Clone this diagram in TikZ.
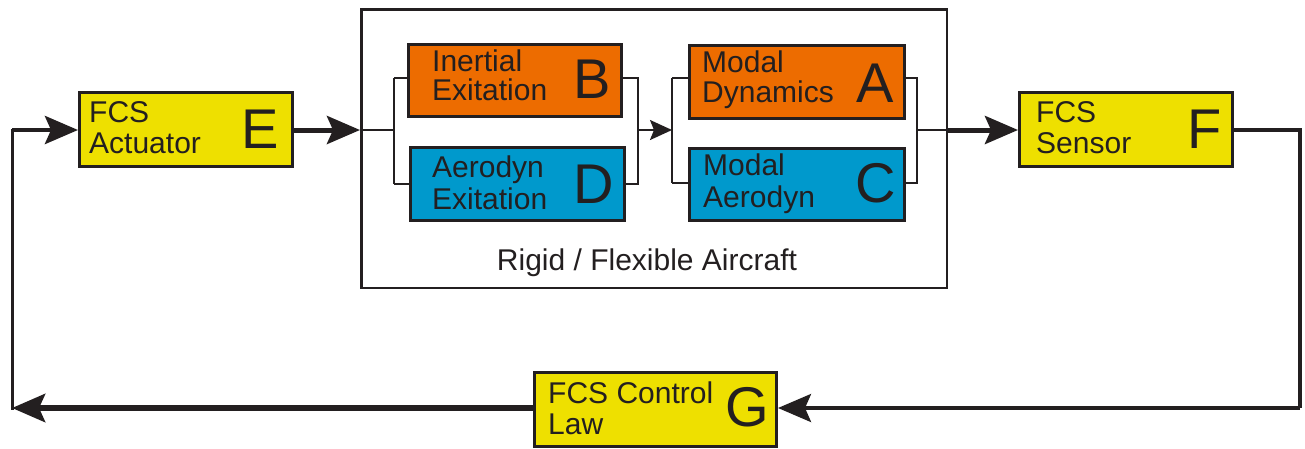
\documentclass[tikz,border=0pt]{standalone}
\usepackage{fontspec}
\setmainfont{Liberation Sans}
\usetikzlibrary{arrows.meta}
\definecolor{ink}{RGB}{35,31,32}
\definecolor{fcsyellow}{RGB}{238,224,0}
\definecolor{dynorange}{RGB}{237,108,0}
\definecolor{aeroblue}{RGB}{0,153,204}
\tikzset{
  blk/.style={draw=ink, line width=3pt, rectangle, inner sep=0pt},
  ybox/.style={blk, fill=fcsyellow},
  obox/.style={blk, fill=dynorange},
  bbox/.style={blk, fill=aeroblue},
  txt/.style={inner sep=0pt, anchor=base west, text=ink, font=\fontsize{30}{31}\selectfont},
  big/.style={inner sep=0pt, anchor=base east, text=ink, font=\fontsize{56}{60}\selectfont},
  thinln/.style={draw=ink, line width=2.7pt},
  thickln/.style={draw=ink, line width=5pt},
  bigtip/.style={-{Stealth[length=33pt,width=28pt,inset=6pt]}},
  smalltip/.style={-{Stealth[length=22pt,width=20pt,inset=4pt]}},
}
\begin{document}
\begin{tikzpicture}[x=1pt,y=-1pt]
\useasboundingbox (0,0) rectangle (1305,448);
% outer frame
\node[draw=ink, line width=2.5pt, inner sep=0pt, minimum width=585.5pt, minimum height=278.5pt] (frame) at (654,148.5) {};
\node[inner sep=0pt, anchor=base, text=ink, font=\fontsize{30}{31}\selectfont] (framelbl) at (647,270) {Rigid / Flexible Aircraft};
% blocks
\node[ybox, minimum width=213pt, minimum height=74pt] (E) at (186,129.5) {};
\node[ybox, minimum width=213pt, minimum height=74pt] (F) at (1126,129.5) {};
\node[ybox, minimum width=242pt, minimum height=74pt] (G) at (655.5,409.5) {};
\node[obox, minimum width=213pt, minimum height=72pt] (B) at (515,80.5) {};
\node[bbox, minimum width=214pt, minimum height=73pt] (D) at (517.5,184) {};
\node[obox, minimum width=215pt, minimum height=73pt] (A) at (797,82) {};
\node[bbox, minimum width=215pt, minimum height=72pt] (C) at (797,184.5) {};
% texts
\node[txt] (E1) at (89,122) {FCS};
\node[txt] (E2) at (89,153) {Actuator};
\node[big] (EL) at (279,148) {E};
\node[txt] (F1) at (1036,122) {FCS};
\node[txt] (F2) at (1036,153) {Sensor};
\node[big] (FL) at (1222,148) {F};
\node[txt] (G1) at (548,403) {FCS Control};
\node[txt] (G2) at (548,434) {Law};
\node[big] (GL) at (769,426) {G};
\node[txt] (B1) at (432,71) {Inertial};
\node[txt] (B2) at (432,100) {Exitation};
\node[big] (BL) at (611,98) {B};
\node[txt] (D1) at (432,177) {Aerodyn};
\node[txt] (D2) at (432,209) {Exitation};
\node[big] (DL) at (614,203) {D};
\node[txt] (A1) at (702,72) {Modal};
\node[txt] (A2) at (702,102) {Dynamics};
\node[big] (AL) at (894,102) {A};
\node[txt] (C1) at (703,175) {Modal};
\node[txt] (C2) at (703,207) {Aerodyn};
\node[big] (CL) at (896,202) {C};
% junction coordinates
\coordinate (inL) at (360,130);
\coordinate (j1) at (394,130);
\coordinate (j1t) at (394,78);
\coordinate (j1b) at (394,184);
\coordinate (j2) at (638,130);
\coordinate (j2t) at (638,78);
\coordinate (j2b) at (638,184);
\coordinate (j3) at (672,130);
\coordinate (j3t) at (672,78);
\coordinate (j3b) at (672,183);
\coordinate (j4) at (917,130);
\coordinate (j4t) at (917,78);
\coordinate (j4b) at (917,183);
\coordinate (outR) at (948,130);
\coordinate (rt) at (1300,130);
\coordinate (rb) at (1300,408);
\coordinate (lb) at (12,408);
\coordinate (lt) at (12,130);
% connectors
\draw[thickln, bigtip] (E.east |- inL) -- (inL);
\draw[thinln] (inL) -- (j1);
\draw[thinln] (j1t) -- (j1b);
\draw[thinln] (j1t) -- (B.west |- j1t);
\draw[thinln] (j1b) -- (D.west |- j1b);
\draw[thinln] (B.east |- j2t) -- (j2t) -- (j2b) -- (D.east |- j2b);
\draw[thinln, line width=2pt, smalltip] (j2) -- (j3);
\draw[thinln] (j3t) -- (j3b);
\draw[thinln] (j3t) -- (A.west |- j3t);
\draw[thinln] (j3b) -- (C.west |- j3b);
\draw[thinln] (A.east |- j4t) -- (j4t) -- (j4b) -- (C.east |- j4b);
\draw[thinln] (j4) -- (outR);
\draw[thickln, bigtip] (outR) -- (F.west |- outR);
\draw[thinln, line width=3.5pt] (F.east |- rt) -- (rt) -- (rb);
\draw[thinln, line width=3.5pt, bigtip] (rb) -- (G.east |- rb);
\draw[thickln, line width=6pt, bigtip] (G.west |- lb) -- (lb);
\draw[thinln, line width=3pt, line cap=rect] (lb) -- (lt);
\draw[thickln, line width=4.5pt, bigtip] (lt) -- (E.west |- lt);
\end{tikzpicture}
\end{document}
